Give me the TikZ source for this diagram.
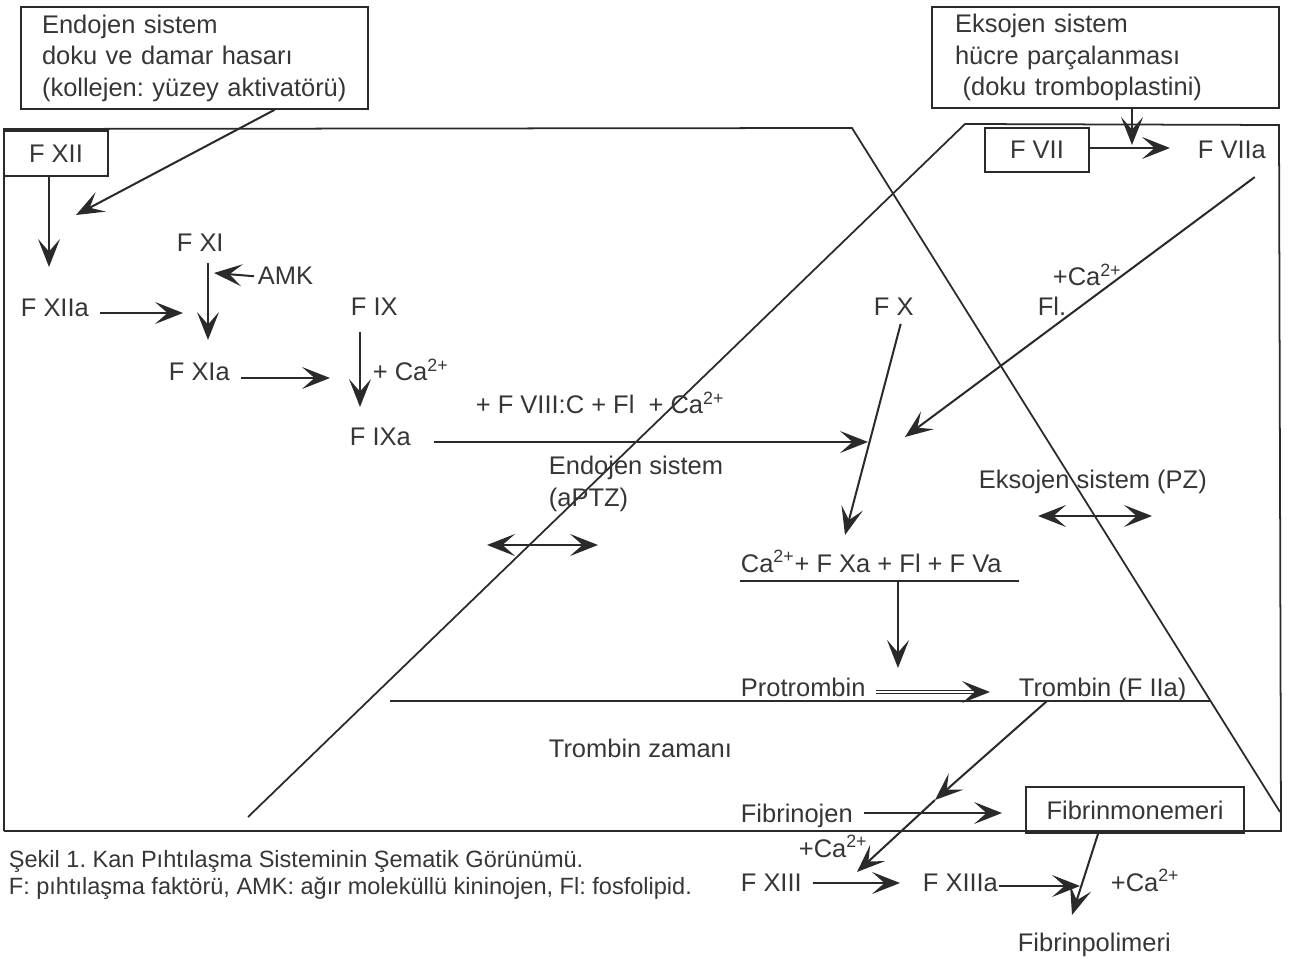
\documentclass[tikz,border=0pt]{standalone}
\usepackage{fontspec}
\setmainfont{Liberation Sans}
\usepackage{tikz}
\usetikzlibrary{arrows.meta,calc}
\definecolor{ink}{HTML}{2A2A2A}
\definecolor{txt}{HTML}{363636}
\newcommand{\ca}{Ca\textsuperscript{2+}}
\frenchspacing

\begin{document}
\begin{tikzpicture}[x=0.02cm, y=-0.02cm, font=\fontsize{14.5}{17.9}\selectfont, color=ink, text=txt, line width=1pt, >={Stealth[length=5.6mm, width=4.4mm, inset=2.5mm]}]
\tikzstyle{box}=[draw, inner sep=0pt]
\tikzstyle{lbl}=[inner sep=0pt, anchor=base west]
\tikzstyle{gap}=[shorten <=0.2cm]
\tikzstyle{arr}=[->, line width=1.15pt]
\useasboundingbox (0,0) rectangle (1292,959);

% outer frame, the two system triangles
\draw (4,831) -- (4,129) -- (852,128) -- (1280,812);
\draw (248,817) -- (965,124) -- (1279,125) -- (1281,831) -- (4,831);
\draw (390,701) -- (1210,701);

% boxes
\node[box, minimum width=6.94cm, minimum height=2.04cm, text width=6.1cm, align=left, inner xsep=0.42cm] (endo) at (194.5,58) {Endojen sistem\\doku ve damar hasarı\\\mbox{(kollejen: yüzey aktivatörü)}};
\node[box, minimum width=6.94cm, minimum height=2.02cm, text width=6.02cm, align=left, inner xsep=0.46cm] (ekso) at (1105.5,57.5) {Eksojen sistem\\hücre parçalanması\\\mbox{\hspace*{0.3em}(doku tromboplastini)}};
\node[box, minimum width=2.08cm, minimum height=0.9cm] (fxii) at (56,153.5) {F XII};
\node[box, minimum width=2.08cm, minimum height=0.88cm] (fvii) at (1037,150) {F VII};
\node[box, minimum width=4.36cm, minimum height=0.92cm] (fmon) at (1135,810) {Fibrinmonemeri};

% factors
\node[lbl] (fxi) at (176,252) {F XI};
\node[lbl] (amk) at (257,285) {AMK};
\node[lbl] (fxiia) at (20,317) {F XIIa};
\node[lbl] (fix) at (350,316) {F IX};
\node[lbl] (fxia) at (168,381) {F XIa};
\node[lbl] (caix) at (372,381) {+ \ca};
\node[lbl] (fixa) at (349,446) {F IXa};
\node[lbl] (cof) at (475,414) {+ F VIII:C + Fl\ \ + \ca};
\node[inner sep=0pt, anchor=west, align=left] (endsys) at (548,484) {Endojen sistem\\(aPTZ)};
\node[lbl] (fx) at (873,316) {F X};
\node[lbl] (cavii) at (1052,286) {+\ca};
\node[lbl] (fl) at (1037,316) {Fl.};
\node[lbl] (fviia) at (1197,159) {F VIIa};
\node[lbl] (exsys) at (978,489) {Eksojen sistem (PZ)};
\node[lbl] (cplx) at (740,572) {\ca+ F Xa + Fl + F Va};
\node[lbl] (protr) at (740,696) {Protrombin};
\node[lbl] (tromb) at (1018,696) {Trombin (F IIa)};
\node[lbl] (tzaman) at (548,757) {Trombin zamanı};
\node[lbl] (fbg) at (740,822) {Fibrinojen};
\node[lbl] (caxiii) at (798,857) {+\ca};
\node[lbl] (fxiii) at (740,891) {F XIII};
\node[lbl] (fxiiia) at (922,891) {F XIIIa};
\node[lbl] (capol) at (1110,891) {+\ca};
\node[lbl] (fpol) at (1017,951) {Fibrinpolimeri};

% caption
\node[lbl, font=\fontsize{13.4}{16}\selectfont] (cap1) at (8,867) {Şekil 1. Kan Pıhtılaşma Sisteminin Şematik Görünümü.};
\node[lbl, font=\fontsize{13.4}{16}\selectfont] (cap2) at (8,894) {F: pıhtılaşma faktörü, AMK: ağır moleküllü kininojen, Fl: fosfolipid.};

% arrow ends
\coordinate (t1) at (76,215);
\coordinate (t2) at (49,267);
\coordinate (t3) at (214,273);
\coordinate (t4) at (208,340);
\coordinate (t5) at (183,313);
\coordinate (t6) at (330,378);
\coordinate (t7) at (360,407);
\coordinate (t8) at (868,442);
\coordinate (t9) at (845,535);
\coordinate (t10) at (905,437);
\coordinate (t11) at (1132,145);
\coordinate (t12) at (1170,148);
\coordinate (t13) at (898,668);
\coordinate (t14) at (990,692);
\coordinate (t15) at (935,800);
\coordinate (t16) at (857,872);
\coordinate (t17) at (1002,813);
\coordinate (t18) at (900,883);
\coordinate (t19) at (1080,886);
\coordinate (t20) at (1072,915);
\coordinate (u1) at (740,581);
\coordinate (u2) at (1019,581);
\coordinate (d1) at (487,545);
\coordinate (d2) at (598,545);
\coordinate (d3) at (1038,516);
\coordinate (d4) at (1152,516);

\draw[arr] ($(endo.south)+(80,0)$) -- (t1);
\draw[arr] (fxii.south -| t2) -- (t2);
\draw[arr] ($(amk.west)+(-3,0)$) -- (t3);
\draw[arr, gap] (fxi.south -| t4) -- (t4);
\draw[arr, gap] (fxiia.east |- t5) -- (t5);
\draw[arr, gap] (fxia.east |- t6) -- (t6);
\draw[arr, shorten <=0.3cm] (fix.south -| t7) -- (t7);
\draw[arr, shorten <=0.45cm] (fixa.east |- t8) -- (t8);
\draw[arr] ($(fx.south)+(7,7)$) -- (t9);
\draw[arr] ($(fviia.south east)+(-12,17)$) -- (t10);
\draw[arr] (ekso.south -| t11) -- (t11);
\draw[arr] (fvii.east |- t12) -- (t12);
\draw[line width=1.15pt] (u1) -- (u2);
\draw[arr] (u1 -| t13) -- (t13);
\draw[arr, gap, double, double distance=0.8pt, line width=0.8pt] (protr.east |- t14) -- (t14);
\draw[arr] ($(tromb.base west)+(29,5)$) -- (t15);
\draw[arr] (t15) -- (t16);
\draw[arr, gap] (fbg.east |- t17) -- (t17);
\draw[arr, gap] (fxiii.east |- t18) -- (t18);
\draw[arr] (fxiiia.east |- t19) -- (t19);
\draw[arr] ($(fmon.south)+(-37,0)$) -- (t20);
\draw[arr, <->] (d1) -- (d2);
\draw[arr, <->] (d3) -- (d4);
\end{tikzpicture}
\end{document}
